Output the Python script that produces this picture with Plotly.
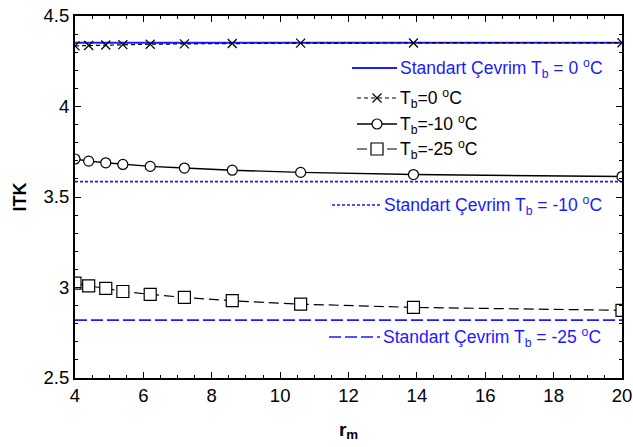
import plotly.graph_objects as go

# ---- data ----
rm = [4.0, 4.4, 4.9, 5.4, 6.2, 7.2, 8.6, 10.6, 13.9, 20.0]
itk_tb0 = [4.335, 4.337, 4.340, 4.342, 4.344, 4.346, 4.348, 4.350, 4.351, 4.352]
itk_tb10 = [3.710, 3.698, 3.689, 3.680, 3.669, 3.660, 3.648, 3.636, 3.624, 3.613]
itk_tb25 = [3.024, 3.009, 2.995, 2.978, 2.962, 2.945, 2.927, 2.908, 2.890, 2.874]
std_x = [4, 20]
std_tb0 = 4.352
std_tb10 = 3.585
std_tb25 = 2.820

x_ticks = [4, 6, 8, 10, 12, 14, 16, 18, 20]
y_ticks = [2.5, 3, 3.5, 4, 4.5]
y_ticklabels = ["2.5", "3", "3.5", "4", "4.5"]

BLUE = "#1a1aff"
FONT = "Liberation Sans, Arial, sans-serif"

fig = go.Figure()

# standard cycle lines
fig.add_trace(go.Scatter(x=std_x, y=[std_tb0]*2, mode="lines",
                         line=dict(color=BLUE, width=2, dash="solid"), showlegend=False))
fig.add_trace(go.Scatter(x=std_x, y=[std_tb10]*2, mode="lines",
                         line=dict(color=BLUE, width=1.6, dash="3px,2px"), showlegend=False))
fig.add_trace(go.Scatter(x=std_x, y=[std_tb25]*2, mode="lines",
                         line=dict(color=BLUE, width=1.6, dash="12px,4px"), showlegend=False))

# series
fig.add_trace(go.Scatter(x=rm, y=itk_tb0, mode="lines+markers",
                         line=dict(color="black", width=1.2, dash="4px,3px"),
                         marker=dict(symbol="x-thin-open", size=9, color="black",
                                     line=dict(color="black", width=1.2)),
                         showlegend=False))
fig.add_trace(go.Scatter(x=rm, y=itk_tb10, mode="lines+markers",
                         line=dict(color="black", width=1.4, dash="solid"),
                         marker=dict(symbol="circle", size=10, color="white",
                                     line=dict(color="black", width=1.2)),
                         showlegend=False))
fig.add_trace(go.Scatter(x=rm, y=itk_tb25, mode="lines+markers",
                         line=dict(color="black", width=1.2, dash="10px,5px"),
                         marker=dict(symbol="square", size=12, color="white",
                                     line=dict(color="black", width=1.2)),
                         showlegend=False))

# ---- manual legend (positions in data coordinates) ----
def px2x(px):
    return 4 + (px - 75) / (547 / 16)

def px2y(py):
    return 2.5 + (378 - py) / 181.0

legend_items = [
    (352, 397, 68, "Standart Çevrim T<sub>b</sub> = 0 <sup>o</sup>C", BLUE, "solid", 2, None),
    (357, 397, 98, "T<sub>b</sub>=0 <sup>o</sup>C", "black", "4px,3px", 1.2, "x-thin-open"),
    (357, 397, 124, "T<sub>b</sub>=-10 <sup>o</sup>C", "black", "solid", 1.4, "circle"),
    (357, 397, 149, "T<sub>b</sub>=-25 <sup>o</sup>C", "black", "10px,5px", 1.2, "square"),
    (332, 381, 205, "Standart Çevrim T<sub>b</sub> = -10 <sup>o</sup>C", BLUE, "3px,2px", 1.6, None),
    (329, 380, 337, "Standart Çevrim T<sub>b</sub> = -25 <sup>o</sup>C", BLUE, "12px,4px", 1.6, None),
]
for x0, x1, yp, txt, col, dash, w, mk in legend_items:
    yv = px2y(yp)
    fig.add_trace(go.Scatter(x=[px2x(x0), px2x(x1)], y=[yv, yv], mode="lines",
                             line=dict(color=col, width=w, dash=dash),
                             showlegend=False, hoverinfo="skip", cliponaxis=False))
    if mk is not None:
        size = {"x-thin-open": 9, "circle": 10, "square": 12}[mk]
        mcol = "black" if mk == "x-thin-open" else "white"
        fig.add_trace(go.Scatter(x=[px2x((x0 + x1) / 2)], y=[yv], mode="markers",
                                 marker=dict(symbol=mk, size=size, color=mcol,
                                             line=dict(color="black", width=1.2)),
                                 showlegend=False, hoverinfo="skip"))
    fig.add_annotation(x=px2x(x1 + 1), y=yv, text=txt, showarrow=False,
                       xanchor="left", yanchor="middle",
                       font=dict(family=FONT, size=17.5, color=col))

axis_common = dict(showline=True, linecolor="black", linewidth=2, mirror="ticks",
                   ticks="inside", ticklen=6, tickwidth=1, tickcolor="black",
                   showgrid=False, zeroline=False, automargin=False,
                   tickfont=dict(family=FONT, size=18.5, color="black"))

fig.update_layout(
    width=633, height=447,
    margin=dict(l=75, r=11, t=16, b=69),
    paper_bgcolor="white", plot_bgcolor="white",
    font=dict(family=FONT, color="black"),
    xaxis=dict(range=[4, 20], tickvals=x_ticks,
               minor=dict(dtick=0.5, ticks="inside", ticklen=3, tickcolor="black"),
               title=dict(text="<b>r<sub>m</sub></b>", font=dict(family=FONT, size=19), standoff=17),
               **axis_common),
    yaxis=dict(range=[2.5, 4.5], tickvals=y_ticks, ticktext=y_ticklabels,
               minor=dict(dtick=0.1, ticks="inside", ticklen=3, tickcolor="black"),
               title=dict(text="<b>ITK</b>", font=dict(family=FONT, size=18), standoff=12),
               **axis_common),
)

fig.write_html("out.html", config={"displayModeBar": False},
               post_script="document.body.style.margin='0';document.body.style.overflow='hidden';")
